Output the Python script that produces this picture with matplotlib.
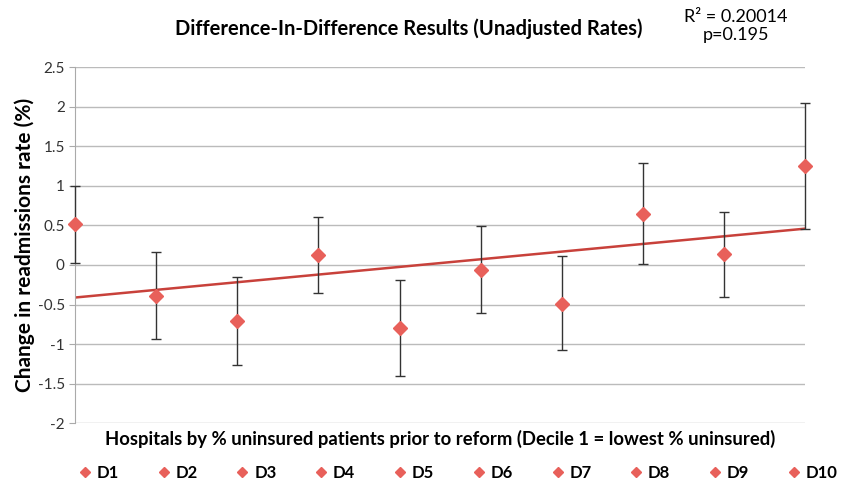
import matplotlib.pyplot as plt
from matplotlib.lines import Line2D
import numpy as np

plt.rcParams["font.family"] = ["Lato", "DejaVu Sans"]

deciles = ["D1", "D2", "D3", "D4", "D5", "D6", "D7", "D8", "D9", "D10"]
change = [0.52, -0.39, -0.71, 0.13, -0.80, -0.06, -0.49, 0.65, 0.14, 1.25]
err_up = [0.48, 0.56, 0.56, 0.48, 0.61, 0.55, 0.60, 0.64, 0.53, 0.80]
err_down = [0.49, 0.54, 0.56, 0.48, 0.60, 0.55, 0.59, 0.64, 0.54, 0.80]
r2_text = "R² = 0.20014\np=0.195"

x = np.arange(1, len(deciles) + 1)
marker_color = "#E8605A"

fig = plt.figure(figsize=(8.44, 4.87), dpi=100)
ax = fig.add_axes([0.089, 0.131, 0.865, 0.731])

for i, name in enumerate(deciles):
    pts, caps, bars = ax.errorbar(
        x[i], change[i],
        yerr=[[err_down[i]], [err_up[i]]],
        fmt="D", color=marker_color, markersize=7,
        markeredgecolor=marker_color,
        ecolor="#333333", elinewidth=1, capsize=3.5, capthick=1,
        zorder=3
    )
    pts.set_clip_on(False)
    for c in caps:
        c.set_clip_on(False)
    for b in bars:
        b.set_clip_on(False)

# linear trend line
coef = np.polyfit(x, change, 1)
ax.plot([1, 10], np.polyval(coef, [1, 10]), color="#C8413B", linewidth=1.8, zorder=2)

ax.set_xlim(1, 10)
ax.set_ylim(-2, 2.5)
ax.set_yticks(np.arange(-2, 2.51, 0.5))
ax.set_yticklabels(["-2", "-1.5", "-1", "-0.5", "0", "0.5", "1", "1.5", "2", "2.5"])
ax.set_xticks([])
ax.yaxis.grid(True, color="#BBBBBB", linewidth=1)
ax.set_axisbelow(True)
for s in ["top", "right", "bottom"]:
    ax.spines[s].set_visible(False)
ax.spines["left"].set_color("#AAAAAA")
ax.tick_params(axis="y", length=4, color="#AAAAAA", labelsize=11, labelcolor="#333333")

ax.set_ylabel("Change in readmissions rate (%)", fontsize=15, fontweight="bold", labelpad=2)
ax.set_xlabel("Hospitals by % uninsured patients prior to reform (Decile 1 = lowest % uninsured)",
              fontsize=13.3, fontweight="bold", labelpad=5)

fig.text(0.484, 0.942, "Difference-In-Difference Results (Unadjusted Rates)",
         ha="center", va="center", fontsize=14.5, fontweight="bold")
fig.text(0.872, 0.947, r2_text, ha="center", va="center", fontsize=13, linespacing=1.15)

handles = [Line2D([], [], marker="D", linestyle="none", color=marker_color, markersize=5.5)
           for _ in deciles]
fig.legend(handles, deciles, loc="lower left", bbox_to_anchor=(0.075, -0.018, 0.935, 0.07),
           mode="expand", ncol=10, frameon=False, handlelength=0.8, handletextpad=0.3,
           prop={"weight": "bold", "size": 12})

fig.savefig("out.png", dpi=100)
